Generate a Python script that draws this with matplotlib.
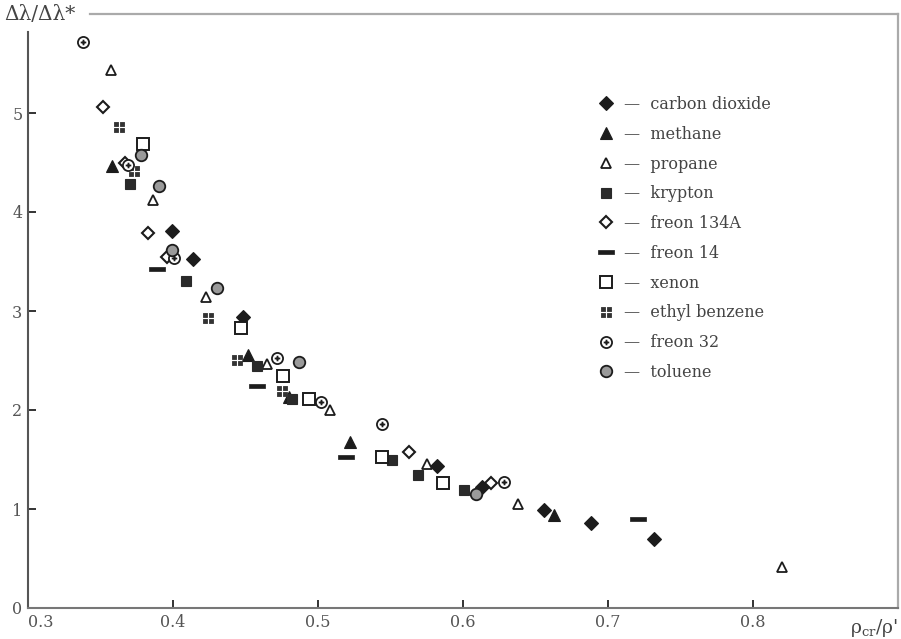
import numpy as np
import matplotlib
matplotlib.use("Agg")
import matplotlib.pyplot as plt
from matplotlib.path import Path

# ratio rho_cr / rho' (x) vs delta-lambda ratio (y)
co2_x = [0.399, 0.414, 0.448, 0.582, 0.613, 0.656, 0.688, 0.732]
co2_y = [3.81, 3.53, 2.94, 1.43, 1.22, 0.99, 0.86, 0.70]
methane_x = [0.358, 0.452, 0.480, 0.522, 0.663]
methane_y = [4.46, 2.56, 2.13, 1.68, 0.94]
propane_x = [0.357, 0.386, 0.423, 0.465, 0.508, 0.575, 0.638, 0.820]
propane_y = [5.43, 4.12, 3.14, 2.46, 2.00, 1.45, 1.05, 0.41]
krypton_x = [0.370, 0.409, 0.458, 0.482, 0.551, 0.569, 0.601]
krypton_y = [4.28, 3.30, 2.44, 2.11, 1.50, 1.34, 1.19]
freon134a_x = [0.352, 0.367, 0.383, 0.396, 0.563, 0.619]
freon134a_y = [5.06, 4.50, 3.79, 3.55, 1.58, 1.26]
freon14_x = [0.389, 0.458, 0.519, 0.721]
freon14_y = [3.42, 2.24, 1.53, 0.90]
xenon_x = [0.379, 0.447, 0.476, 0.494, 0.544, 0.586]
xenon_y = [4.69, 2.83, 2.34, 2.11, 1.53, 1.26]
ethylbenz_x = [0.363, 0.373, 0.424, 0.444, 0.475]
ethylbenz_y = [4.86, 4.41, 2.93, 2.51, 2.19]
freon32_x = [0.338, 0.369, 0.401, 0.472, 0.502, 0.544, 0.628]
freon32_y = [5.72, 4.47, 3.54, 2.53, 2.08, 1.86, 1.27]
toluene_x = [0.378, 0.390, 0.399, 0.430, 0.487, 0.609]
toluene_y = [4.58, 4.26, 3.62, 3.23, 2.48, 1.15]

x_ticks = [0.3, 0.4, 0.5, 0.6, 0.7, 0.8]
y_ticks = [0, 1, 2, 3, 4, 5]

# custom markers
def _sq(cx, cy, h):
    return [(cx - h, cy - h), (cx + h, cy - h), (cx + h, cy + h), (cx - h, cy + h), (cx - h, cy - h)]

dots = Path.make_compound_path(*[Path(_sq(cx, cy, 0.32), closed=True)
                                 for cx in (-0.5, 0.5) for cy in (-0.5, 0.5)])
bar = Path([(-1, -0.28), (1, -0.28), (1, 0.28), (-1, 0.28), (-1, -0.28)], closed=True)
circ = Path.unit_circle()
cross = Path([(-0.5, 0), (0.5, 0), (0, -0.5), (0, 0.5)],
             [Path.MOVETO, Path.LINETO, Path.MOVETO, Path.LINETO])
circ_cross = Path.make_compound_path(circ, cross)

K = "#1c1c1c"
series = [
    (co2_x, co2_y, "carbon dioxide", dict(marker="D", ms=7, mfc=K, mec=K, mew=0.8)),
    (methane_x, methane_y, "methane", dict(marker="^", ms=8.5, mfc=K, mec=K, mew=0.8)),
    (propane_x, propane_y, "propane", dict(marker="^", ms=7.8, mfc="white", mec=K, mew=1.3)),
    (krypton_x, krypton_y, "krypton", dict(marker="s", ms=6.8, mfc="#2a2a2a", mec="#2a2a2a", mew=0.8)),
    (freon134a_x, freon134a_y, "freon 134A", dict(marker="D", ms=6.5, mfc="white", mec=K, mew=1.5)),
    (freon14_x, freon14_y, "freon 14", dict(marker=bar, ms=11, mfc=K, mec=K, mew=0.5)),
    (xenon_x, xenon_y, "xenon", dict(marker="s", ms=8.5, mfc="white", mec=K, mew=1.4)),
    (ethylbenz_x, ethylbenz_y, "ethyl benzene", dict(marker=dots, ms=7, mfc="#333333", mec="#333333", mew=0.6)),
    (freon32_x, freon32_y, "freon 32", dict(marker=circ_cross, ms=8, mfc="white", mec=K, mew=1.3)),
    (toluene_x, toluene_y, "toluene", dict(marker="o", ms=8.3, mfc="#9a9a9a", mec=K, mew=1.3)),
]

plt.rcParams["font.family"] = ["DejaVu Serif"]
plt.rcParams["mathtext.fontset"] = "dejavuserif"

fig = plt.figure(figsize=(9.01, 6.39), dpi=100)
ax = fig.add_axes([28 / 901, 31 / 639, 870 / 901, 594 / 639])

handles = []
for xs, ys, name, st in series:
    (h,) = ax.plot(xs, ys, linestyle="none", label="\u2014  " + name, **st)
    handles.append(h)

ax.set_xlim(0.3, 0.9)
ax.set_ylim(0, 6.0)
ax.set_xticks(x_ticks)
ax.set_xticklabels([f"{v:.1f}" for v in x_ticks])
ax.set_yticks(y_ticks)
ax.set_yticklabels([str(v) for v in y_ticks])
ax.tick_params(direction="in", length=6, width=1.4, colors="#333333",
               labelcolor="#555555", labelsize=11.5)
ax.tick_params(axis="x", pad=4)
ax.tick_params(axis="y", pad=4)
ax.get_xticklabels()[0].set_horizontalalignment("left")

ax.spines["left"].set_bounds(0, 5.82)
ax.spines["left"].set_color("#555555")
ax.spines["left"].set_linewidth(1.5)
ax.spines["bottom"].set_color("#777777")
ax.spines["bottom"].set_linewidth(1.5)
ax.spines["top"].set_bounds(0.343, 0.9)
ax.spines["top"].set_color("#aaaaaa")
ax.spines["top"].set_linewidth(1.6)
ax.spines["right"].set_color("#aaaaaa")
ax.spines["right"].set_linewidth(1.6)

fig.text(4 / 901, 1 - 15 / 639, "\u0394\u03bb/\u0394\u03bb*", fontsize=14.5,
         color="#444444", va="center", ha="left")
fig.text(898 / 901, 1 - 628 / 639, "\u03c1$_{\\rm cr}$/\u03c1'", fontsize=13.5,
         color="#444444", va="center", ha="right")

leg = ax.legend(handles=handles, loc="upper left", bbox_to_anchor=(0.655, 0.862),
                frameon=False, borderpad=0, borderaxespad=0, handlelength=1.0,
                handletextpad=0.65, labelspacing=0.8, fontsize=11.5)
for t in leg.get_texts():
    t.set_color("#444444")

fig.savefig("out.png", dpi=100)
